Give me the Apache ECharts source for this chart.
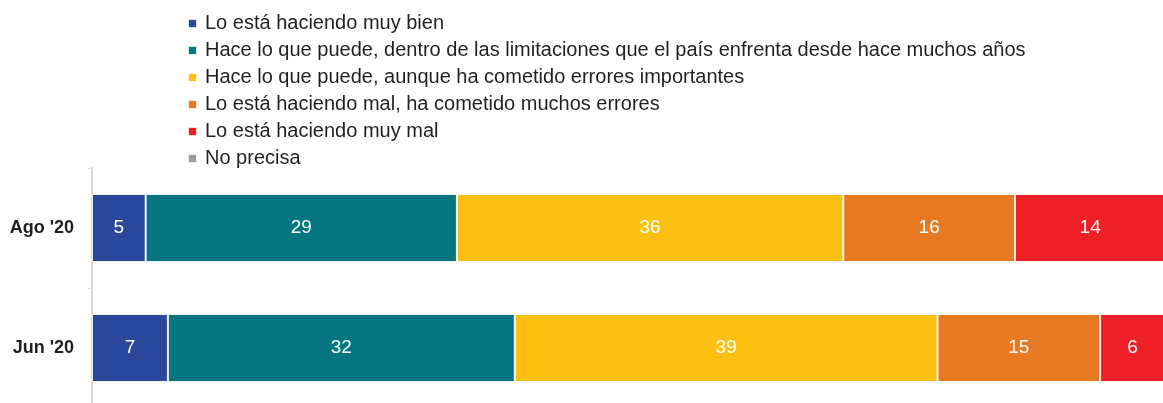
<!DOCTYPE html>
<html>
<head>
<meta charset="utf-8">
<style>
  html, body { margin: 0; padding: 0; background: #fff; }
  #chart { width: 1163px; height: 403px; }
</style>
<script src="https://cdn.jsdelivr.net/npm/echarts@6/dist/echarts.min.js"></script>
</head>
<body>
<div id="chart"></div>
<script>
// Survey periods, top to bottom
const periods = ["Ago '20", "Jun '20"];

// Answer options (legend order)
const answers = [
  'Lo está haciendo muy bien',
  'Hace lo que puede, dentro de las limitaciones que el país enfrenta desde hace muchos años',
  'Hace lo que puede, aunque ha cometido errores importantes',
  'Lo está haciendo mal, ha cometido muchos errores',
  'Lo está haciendo muy mal',
  'No precisa'
];

// Percentages per answer, one entry per period
const muyBien      = [5, 7];
const haceLoQuePuedeLimit = [29, 32];
const haceLoQuePuedeErrores = [36, 39];
const mal          = [16, 15];
const muyMal       = [14, 6];
const noPrecisa    = [1, 1];

const colors = ['#2b479b', '#05757f', '#fbc012', '#e77923', '#ee1f25', '#9a9a9a'];

const seriesValues = [muyBien, haceLoQuePuedeLimit, haceLoQuePuedeErrores, mal, muyMal, noPrecisa];

// Each bar is scaled to its own total so both rows span the full width
const totals = periods.map((_, i) => seriesValues.reduce((s, arr) => s + arr[i], 0));

const FONT = '"Liberation Sans", Arial, sans-serif';

const chart = echarts.init(document.getElementById('chart'), null, { renderer: 'canvas' });

chart.setOption({
  animation: false,
  color: colors,
  legend: {
    orient: 'vertical',
    left: 182,
    top: 8,
    itemWidth: 9,
    itemHeight: 9,
    itemGap: 6,
    icon: 'rect',
    selectedMode: false,
    textStyle: {
      fontFamily: FONT,
      fontSize: 20,
      lineHeight: 21,
      color: '#231f20',
      padding: [0, 0, 0, 3]
    },
    data: answers
  },
  // the plot runs past the right and bottom edges of the page
  grid: {
    left: 92,
    top: 168,
    width: 1084,
    height: 240,
    outerBoundsMode: 'none',
    containLabel: false
  },
  xAxis: {
    type: 'value',
    min: 0,
    max: 100,
    show: false
  },
  yAxis: {
    type: 'category',
    data: periods,
    inverse: true,
    axisLine: { show: true, lineStyle: { color: '#d9d9d9', width: 2 } },
    axisTick: { show: true, length: 4, lineStyle: { color: '#d9d9d9', width: 1 } },
    axisLabel: {
      fontFamily: FONT,
      fontSize: 18,
      fontWeight: 'bold',
      color: '#231f20',
      margin: 18
    }
  },
  series: seriesValues.map((vals, s) => ({
    name: answers[s],
    type: 'bar',
    stack: 'total',
    barWidth: 68,
    data: vals.map((v, i) => v / totals[i] * 100),
    itemStyle: { borderColor: 'rgba(255,255,255,0.85)', borderWidth: 1 },
    label: {
      show: true,
      position: 'inside',
      color: '#ffffff',
      fontFamily: FONT,
      fontSize: 19,
      formatter: p => String(vals[p.dataIndex])
    }
  }))
});
</script>
</body>
</html>
